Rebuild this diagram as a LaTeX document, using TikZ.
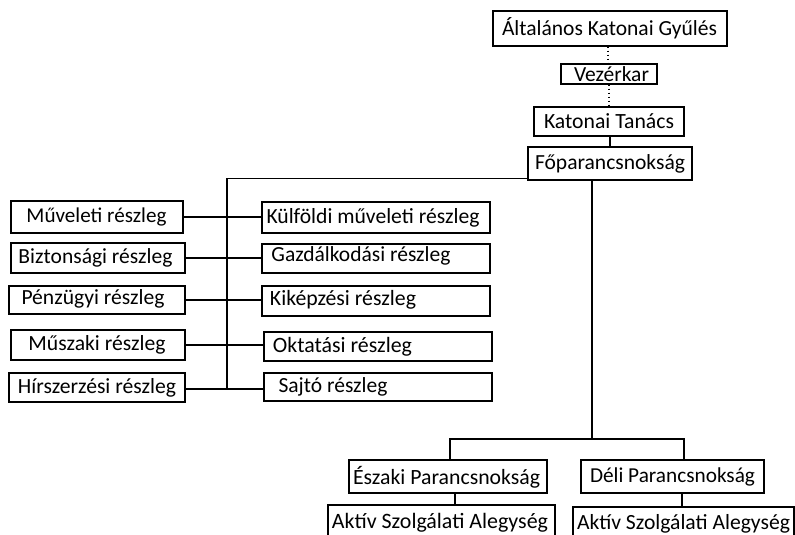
\documentclass[tikz,border=0pt]{standalone}
\usepackage{graphicx}
\usepackage{fontspec}
\setmainfont{Carlito}
\begin{document}
\begin{tikzpicture}[x=1pt,y=-1pt,
  box/.style={draw,line width=1.4pt,inner sep=0pt},
  lbl/.style={inner sep=0pt,font=\fontsize{16}{18}\selectfont},
  conn/.style={line width=1.4pt},
  dots/.style={line width=1.6pt,dash pattern=on 1.6pt off 2.4pt}]
\clip (0,0) rectangle (795,535);
% name, x1,y1,x2,y2, text, text centre x, text centre y, text width
\newcommand{\bx}[9]{%
  \node[box,minimum width=#4-#2,minimum height=#5-#3] (#1) at ({(#2+#4)/2},{(#3+#5)/2}) {};
  \node[lbl] (#1t) at (#7,#8) {\resizebox{#9pt}{!}{#6}};}
\bx{alt}{493}{11}{727}{46}{Általános Katonai Gyűlés}{609.5}{28.5}{215}
\bx{vez}{561}{64}{657}{84}{Vezérkar}{611.5}{74}{75}
\bx{kt}{534}{107}{684}{136}{Katonai Tanács}{609}{121.5}{130}
\bx{fo}{528}{147}{692}{180}{Főparancsnokság}{610}{163.5}{150}
\bx{mu}{11}{201}{183}{233}{Műveleti részleg}{96.5}{217}{140}
\bx{kul}{262}{202}{490}{233}{Külföldi műveleti részleg}{373}{217.5}{213}
\bx{biz}{11}{243}{185}{273}{Biztonsági részleg}{95.5}{258}{154}
\bx{gaz}{262}{244}{490}{273}{Gazdálkodási részleg}{361}{255.5}{179}
\bx{pen}{9}{286}{185}{314}{Pénzügyi részleg}{93}{299}{143}
\bx{kik}{262}{286}{490}{316}{Kiképzési részleg}{343}{300}{146}
\bx{mus}{11}{330}{185}{360}{Műszaki részleg}{97}{344.5}{137}
\bx{okt}{264}{332}{492}{361}{Oktatási részleg}{342.5}{346.5}{139}
\bx{hir}{9}{373}{185}{402}{Hírszerzési részleg}{97}{387.5}{158}
\bx{saj}{264}{373}{492}{401}{Sajtó részleg}{333}{386.5}{109}
\bx{esz}{349}{460}{547}{493}{Északi Parancsnokság}{446.5}{477}{187}
\bx{del}{581}{460}{764}{493}{Déli Parancsnokság}{672.5}{477}{165}
\bx{ak1}{328}{505}{555}{545}{Aktív Szolgálati Alegység}{440}{523}{216}
\bx{ak2}{573}{507}{794}{549}{Aktív Szolgálati Alegység}{683.5}{524}{213}
\coordinate (sp) at (227,389);
\coordinate (br) at (592,439);
\coordinate (bl) at (450,439);
\coordinate (bR) at (684,439);
\draw[dots] (alt.south -| 608,0) -- (vez.north -| 608,0);
\draw[dots] (vez.south -| 609,0) -- (kt.north -| 609,0);
\draw[conn] (kt.south -| 610,0) -- (fo.north -| 610,0);
\draw[conn] ([yshift=2pt]fo.south west) -| (sp);
\draw[conn] (mu.east) -- (mu.east -| kul.west);
\draw[conn] (biz.east) -- (biz.east -| gaz.west);
\draw[conn] (pen.east) -- (pen.east -| kik.west);
\draw[conn] (mus.east) -- (mus.east -| okt.west);
\draw[conn] (hir.east |- sp) -- (sp -| saj.west);
\draw[conn] (fo.south -| br) -- (br);
\draw[conn] (bl |- esz.north) -- (bl) -- (bR) -- (bR |- del.north);
\draw[conn] (esz.south -| 455,0) -- (ak1.north -| 455,0);
\draw[conn] (del.south -| 682,0) -- (ak2.north -| 682,0);
\end{tikzpicture}
\end{document}
